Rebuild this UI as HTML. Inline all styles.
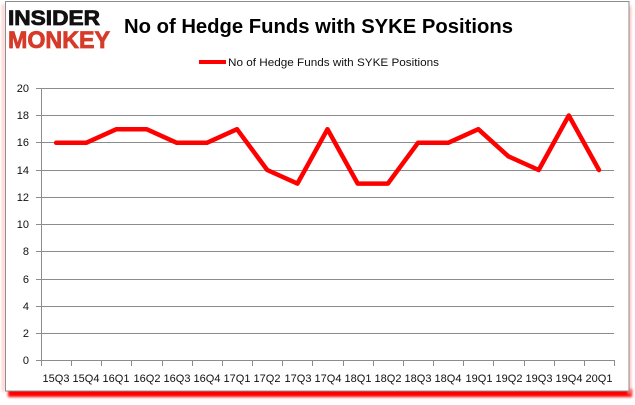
<!DOCTYPE html>
<html><head><meta charset="utf-8"><style>
html,body{margin:0;padding:0;background:#fff;}
svg{display:block;}
</style></head><body>
<svg width="635" height="405" viewBox="0 0 635 405" xmlns="http://www.w3.org/2000/svg" font-family="Liberation Sans, sans-serif">
<defs>
<filter id="blur" x="-10%" y="-50%" width="120%" height="200%"><feGaussianBlur stdDeviation="1.3"/></filter>
<filter id="blur2" x="-50%" y="-10%" width="200%" height="120%"><feGaussianBlur stdDeviation="1.5"/></filter>
</defs>
<rect x="0" y="0" width="635" height="405" fill="#fff"/>
<!-- shadows -->
<rect x="8" y="389" width="624" height="8" fill="#ff0000" filter="url(#blur)"/>
<rect x="628" y="6" width="3" height="388" fill="#ffb0b0" filter="url(#blur2)"/>
<rect x="2" y="4" width="3" height="388" fill="#ffc8c8" filter="url(#blur2)"/>
<!-- frame -->
<rect x="5.5" y="1.5" width="623.5" height="389.5" fill="#fff" stroke="#8c8c8c" stroke-width="1"/>
<!-- logo -->
<text x="8" y="25" font-size="21" font-weight="bold" fill="#111" stroke="#111" stroke-width="0.8" textLength="92" lengthAdjust="spacingAndGlyphs" font-family="Liberation Sans, sans-serif">INSIDER</text>
<text x="8" y="48" font-size="24" font-weight="bold" fill="#d63b2a" stroke="#d63b2a" stroke-width="0.8" textLength="102" lengthAdjust="spacingAndGlyphs" font-family="Liberation Sans, sans-serif">MONKEY</text>
<!-- title -->
<text x="124" y="33" font-size="20.5" font-weight="bold" fill="#000" textLength="389" lengthAdjust="spacingAndGlyphs">No of Hedge Funds with SYKE Positions</text>
<!-- legend -->
<line x1="199" y1="62" x2="226" y2="62" stroke="#ff0000" stroke-width="4"/>
<text x="228" y="66" font-size="11" fill="#111" textLength="211" lengthAdjust="spacingAndGlyphs">No of Hedge Funds with SYKE Positions</text>
<!-- gridlines -->
<g stroke="#8c8c8c" stroke-width="1">
<line x1="36" y1="88.5" x2="614" y2="88.5"/>
<line x1="36" y1="115.5" x2="614" y2="115.5"/>
<line x1="36" y1="142.5" x2="614" y2="142.5"/>
<line x1="36" y1="170.5" x2="614" y2="170.5"/>
<line x1="36" y1="197.5" x2="614" y2="197.5"/>
<line x1="36" y1="224.5" x2="614" y2="224.5"/>
<line x1="36" y1="251.5" x2="614" y2="251.5"/>
<line x1="36" y1="279.5" x2="614" y2="279.5"/>
<line x1="36" y1="306.5" x2="614" y2="306.5"/>
<line x1="36" y1="333.5" x2="614" y2="333.5"/>
<line x1="36" y1="360.5" x2="614" y2="360.5"/>
<line x1="41.5" y1="88" x2="41.5" y2="361"/>
</g>
<!-- y labels -->
<g font-size="11" fill="#111" text-anchor="end">
<text x="29" y="92">20</text>
<text x="29" y="119">18</text>
<text x="29" y="146">16</text>
<text x="29" y="174">14</text>
<text x="29" y="201">12</text>
<text x="29" y="228">10</text>
<text x="29" y="255">8</text>
<text x="29" y="283">6</text>
<text x="29" y="310">4</text>
<text x="29" y="337">2</text>
<text x="29" y="364">0</text>
</g>
<!-- x ticks -->
<g stroke="#8c8c8c" stroke-width="1">
<line x1="41.5" y1="360" x2="41.5" y2="366"/>
<line x1="71.5" y1="360" x2="71.5" y2="366"/>
<line x1="101.5" y1="360" x2="101.5" y2="366"/>
<line x1="131.5" y1="360" x2="131.5" y2="366"/>
<line x1="162.5" y1="360" x2="162.5" y2="366"/>
<line x1="192.5" y1="360" x2="192.5" y2="366"/>
<line x1="222.5" y1="360" x2="222.5" y2="366"/>
<line x1="252.5" y1="360" x2="252.5" y2="366"/>
<line x1="282.5" y1="360" x2="282.5" y2="366"/>
<line x1="312.5" y1="360" x2="312.5" y2="366"/>
<line x1="343.5" y1="360" x2="343.5" y2="366"/>
<line x1="373.5" y1="360" x2="373.5" y2="366"/>
<line x1="403.5" y1="360" x2="403.5" y2="366"/>
<line x1="433.5" y1="360" x2="433.5" y2="366"/>
<line x1="463.5" y1="360" x2="463.5" y2="366"/>
<line x1="493.5" y1="360" x2="493.5" y2="366"/>
<line x1="524.5" y1="360" x2="524.5" y2="366"/>
<line x1="554.5" y1="360" x2="554.5" y2="366"/>
<line x1="584.5" y1="360" x2="584.5" y2="366"/>
<line x1="614.5" y1="360" x2="614.5" y2="366"/>
</g>
<!-- x labels -->
<g font-size="11" fill="#111" text-anchor="middle">
<text x="56" y="382">15Q3</text>
<text x="86" y="382">15Q4</text>
<text x="116" y="382">16Q1</text>
<text x="147" y="382">16Q2</text>
<text x="177" y="382">16Q3</text>
<text x="207" y="382">16Q4</text>
<text x="237" y="382">17Q1</text>
<text x="267" y="382">17Q2</text>
<text x="298" y="382">17Q3</text>
<text x="328" y="382">17Q4</text>
<text x="358" y="382">18Q1</text>
<text x="388" y="382">18Q2</text>
<text x="418" y="382">18Q3</text>
<text x="448" y="382">18Q4</text>
<text x="479" y="382">19Q1</text>
<text x="509" y="382">19Q2</text>
<text x="539" y="382">19Q3</text>
<text x="569" y="382">19Q4</text>
<text x="599" y="382">20Q1</text>
</g>
<!-- series -->
<polyline fill="none" stroke="#ff0000" stroke-width="4.5" stroke-linejoin="round" stroke-linecap="round"
points="56.1,142.8 86.2,142.8 116.4,129.2 146.6,129.2 176.7,142.8 206.9,142.8 237.0,129.2 267.2,170.0 297.4,183.6 327.5,129.2 357.7,183.6 387.9,183.6 418.0,142.8 448.2,142.8 478.3,129.2 508.5,156.4 538.7,170.0 568.8,115.5 599.0,170.0"/>
</svg>
</body></html>
